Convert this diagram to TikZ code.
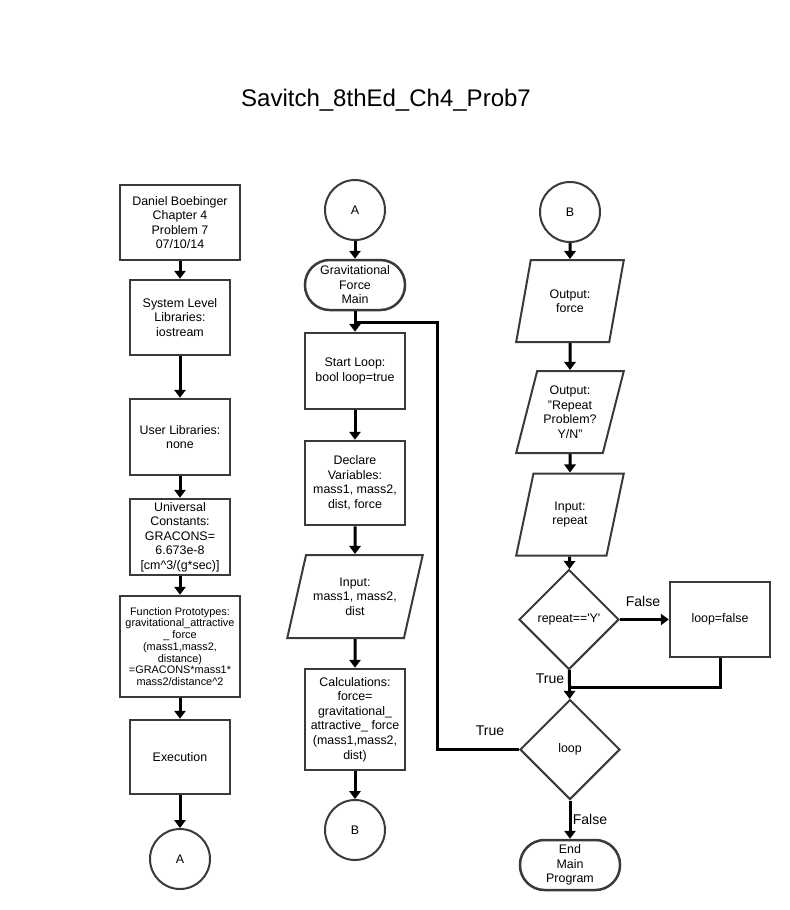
\documentclass[tikz,border=0pt]{standalone}
\usepackage{fontspec}
\setmainfont{Liberation Sans}
\usetikzlibrary{shapes.geometric,arrows.meta}

\definecolor{edge}{HTML}{3A3A3A}
\tikzset{
    box/.style={draw=edge, line width=0.075cm, rectangle, minimum width=3cm,
        minimum height=2.25cm, inner sep=0, align=center,
        font=\fontsize{10.6}{12.4}\selectfont},
    conn/.style={draw=edge, line width=0.06cm, circle, minimum size=1.8cm,
        inner sep=0, font=\fontsize{10.6}{12.4}\selectfont},
    term/.style={box, rounded corners=0.74cm, minimum height=1.5cm},
    io/.style={draw=edge, line width=0.06cm, trapezium, trapezium stretches=true,
        trapezium left angle=72, trapezium right angle=108,
        minimum width=3.24cm, minimum height=2.46cm, inner sep=0, align=center,
        font=\fontsize{10.6}{12.4}\selectfont},
    dec/.style={draw=edge, line width=0.06cm, diamond, aspect=1,
        minimum width=3cm, minimum height=3cm, inner sep=0,
        font=\fontsize{10.6}{12.4}\selectfont},
    arr/.style={line width=0.09cm, -{Triangle[length=0.24cm,width=0.34cm]}},
    line/.style={line width=0.09cm},
    lbl/.style={font=\fontsize{12}{14}\selectfont}
}

\begin{document}
\begin{tikzpicture}[x=0.03cm, y=-0.03cm]
    \useasboundingbox (0,0) rectangle (790,910);
    \node[font=\fontsize{20.5}{22}\selectfont] (title) at (386,100) {Savitch\_8thEd\_Ch4\_Prob7};

    % left column
    \node[box, minimum width=3.6cm] (head) at (180,222.5) {Daniel Boebinger\\Chapter 4\\Problem 7\\07/10/14};
    \node[box] (syslib) at (180,317.5) {System Level\\Libraries:\\iostream};
    \node[box, minimum height=2.28cm] (usrlib) at (180,437) {User Libraries:\\none};
    \node[box, minimum height=2.28cm] (consts) at (180,537) {Universal\\Constants:\\GRACONS=\\6.673e-8\\{[}cm\textasciicircum 3/(g*sec){]}};
    \node[box, minimum width=3.6cm, minimum height=3.03cm, font=\fontsize{9.3}{10}\selectfont] (protos) at (180,646.5)
        {Function Prototypes:\\gravitational\_attractive\\\_ force\\(mass1,mass2,\\distance)\\=GRACONS*mass1*\\mass2/distance\textasciicircum 2};
    \node[box, minimum height=2.22cm] (exec) at (180,757) {Execution};
    \node[conn] (toA) at (180,859) {A};

    \draw[arr] (head) -- (syslib);
    \draw[arr] (syslib) -- (usrlib);
    \draw[arr] (usrlib) -- (consts);
    \draw[arr] (consts) -- (protos);
    \draw[arr] (protos) -- (exec);
    \draw[arr] (exec) -- (toA);

    % middle column
    \node[conn] (fromA) at (355,210) {A};
    \node[term] (main) at (355,285) {Gravitational\\Force\\Main};
    \node[box, minimum height=2.28cm] (start) at (355,371) {Start Loop:\\bool loop=true};
    \node[box, minimum height=2.52cm] (decl) at (355,483) {Declare\\Variables:\\mass1, mass2,\\dist, force};
    \node[io, trapezium left angle=67, trapezium right angle=113,
        minimum width=4.08cm, minimum height=2.49cm] (inmass) at (355,596.5) {Input:\\mass1, mass2,\\dist};
    \node[box, minimum height=3.03cm] (calc) at (355,719.5) {Calculations:\\force=\\gravitational\_\\attractive\_ force\\(mass1,mass2,\\dist)};
    \node[conn] (toB) at (355,830) {B};
    \coordinate (jn) at (355,322);
    \coordinate (jr) at (437,322);

    \draw[arr] (fromA) -- (main);
    \draw[arr] (main) -- (start);
    \draw[arr] (start) -- (decl);
    \draw[arr] (decl) -- (inmass);
    \draw[arr] (inmass) -- (calc);
    \draw[arr] (calc) -- (toB);

    % right column
    \node[conn] (fromB) at (570,212) {B};
    \node[io] (outf) at (570,301) {Output:\\force};
    \node[io] (outq) at (570,412) {Output:\\"Repeat\\Problem?\\Y/N"};
    \node[io] (inrep) at (570,514.5) {Input:\\repeat};
    \node[dec] (rep) at (569,619.5) {repeat==\textquotesingle Y\textquotesingle};
    \node[box] (setf) at (720,619.5) {loop=false};
    \node[dec] (loop) at (570,749.5) {loop};
    \node[term] (endp) at (570,865) {End\\Main\\Program};
    \coordinate (mrg) at (570,687);

    \draw[arr] (fromB) -- (outf);
    \draw[arr] (outf) -- (outq);
    \draw[arr] (outq) -- (inrep);
    \draw[arr] (inrep) -- (rep);
    \draw[arr] (rep) -- (setf);
    \draw[line] (setf) |- (mrg);
    \draw[arr] (rep) -- (loop);
    \draw[arr] (loop) -- (endp);
    \draw[line] (loop.west) -| (jr) -- (jn);

    \node[lbl] at (643,601) {False};
    \node[lbl] at (550,679) {True};
    \node[lbl] at (490,731) {True};
    \node[lbl] at (590,819) {False};
\end{tikzpicture}
\end{document}
